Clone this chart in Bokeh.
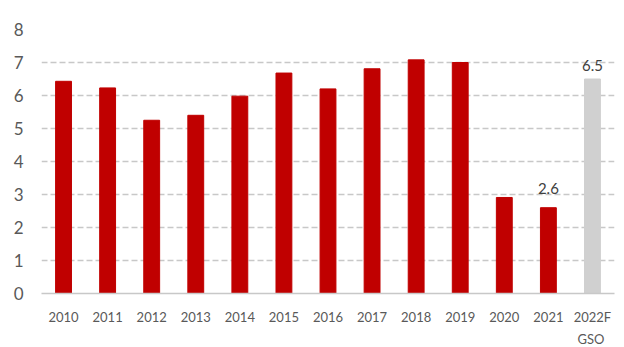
from bokeh.plotting import figure
from bokeh.models import ColumnDataSource, FixedTicker, LabelSet, Range1d, Title
from bokeh.core.properties import value
from bokeh.embed import file_html
from bokeh.resources import INLINE

years = ["2010", "2011", "2012", "2013", "2014", "2015", "2016", "2017",
         "2018", "2019", "2020", "2021", "2022F"]
growth = [6.43, 6.23, 5.25, 5.4, 5.98, 6.68, 6.2, 6.81, 7.08, 7.0, 2.91, 2.6, 6.5]
colors = ["#C00000"] * 12 + ["#D0D0D0"]
label_text = [""] * 11 + ["2.6", "6.5"]
label_offset = [0] * 11 + [14, 8]
source_note = "GSO"

src = ColumnDataSource(dict(x=years, top=growth, color=colors,
                            lab=label_text, off=label_offset))

p = figure(x_range=years, y_range=Range1d(0, 8), width=624, height=347,
           output_backend="svg", toolbar_location=None,
           min_border_left=41, min_border_right=10, min_border_top=29,
           min_border_bottom=8)
p.x_range.range_padding = 0
p.vbar(x="x", top="top", width=0.36, color="color", source=src)

labels = LabelSet(x="x", y="top", text="lab", source=src, y_offset="off",
                  text_align="center", text_baseline="bottom",
                  text_font_size="15px", text_color="#404040",
                  text_font=value("Lato"))
p.add_layout(labels)

p.outline_line_color = None
p.xgrid.grid_line_color = None
p.ygrid.grid_line_color = "#C8C8C8"
p.ygrid.grid_line_dash = "6 3"
p.ygrid.grid_line_width = 1.5
p.yaxis.ticker = FixedTicker(ticks=list(range(0, 9)))
p.yaxis.axis_line_color = None
p.yaxis.major_tick_line_color = None
p.yaxis.minor_tick_line_color = None
p.yaxis.major_label_text_font_size = "17px"
p.yaxis.major_label_text_color = "#595959"
p.yaxis.major_label_text_font = "Lato"
p.yaxis.major_label_standoff = 12

p.xaxis.axis_line_color = "#C8C8C8"
p.xaxis.axis_line_width = 1.5
p.xaxis.major_tick_line_color = None
p.xaxis.major_label_text_font_size = "13px"
p.xaxis.major_label_text_color = "#595959"
p.xaxis.major_label_text_font = "Lato"
p.xaxis.major_label_standoff = 9

note = Title(text=source_note, align="right", offset=10, standoff=2,
             text_font="Lato", text_font_size="13px",
             text_font_style="normal", text_color="#595959")
p.add_layout(note, "below")

open("out.html", "w").write(file_html(p, INLINE))
